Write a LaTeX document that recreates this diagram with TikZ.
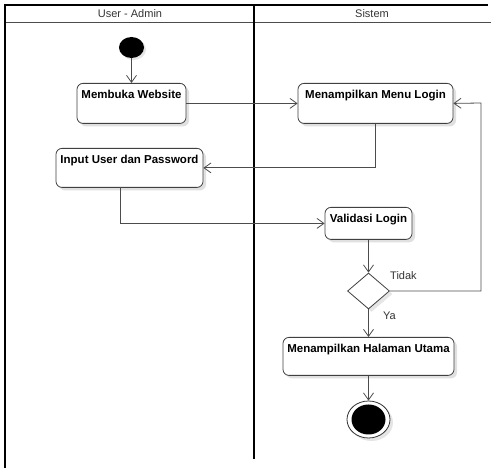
\documentclass[tikz,border=0pt]{standalone}
\usepackage{fontspec}
\setmainfont{Liberation Sans}
\usetikzlibrary{arrows.meta,shapes.geometric,shadows}

\begin{document}
\begin{tikzpicture}[x=1pt,y=-1pt,
  act/.style={draw=black!75, line width=0.8pt, rounded corners=6pt, fill=white,
    anchor=north, inner xsep=2pt, inner ysep=6pt, text height=9pt,
    font=\fontsize{11.5}{13}\selectfont\bfseries,
    drop shadow={shadow xshift=3pt, shadow yshift=-3pt, opacity=0.12, fill=black}},
  flow/.style={draw=black!70, line width=0.8pt,
    -{Straight Barb[length=7pt,width=10pt,line width=0.8pt]}},
  lanetext/.style={font=\fontsize{11}{13}\selectfont, text=black!80},
  guard/.style={font=\fontsize{11}{13}\selectfont, text=black!80, anchor=west, inner sep=0pt}
]
\useasboundingbox (0,0) rectangle (491,468);

% swimlane frame
\draw[black!70, line width=0.9pt] (5,22) -- (491,22);
\draw[black, line width=2.4pt] (4,5) -- (488,5);
\draw[black, line width=2.4pt] (5,4) -- (5,468);
\draw[black, line width=2pt] (254,5) -- (254,459);
\node[lanetext] (laneA) at (130,13.5) {User - Admin};
\node[lanetext] (laneB) at (372,13.5) {Sistem};

% initial node
\node[ellipse, fill=black, minimum width=25pt, minimum height=21pt, inner sep=0pt,
  drop shadow={shadow xshift=2pt, shadow yshift=-2pt, opacity=0.1, fill=black}]
  (start) at (131.5,47.5) {};

% activities
\node[act, minimum width=109pt, text depth=19pt] (web) at (131.5,83) {Membuka Website};
\node[act, minimum width=155pt, text depth=19pt] (menu) at (375.5,83) {Menampilkan Menu Login};
\node[act, minimum width=147pt, text depth=18pt] (input) at (129.5,148) {Input User dan Password};
\node[act, minimum width=87pt, text depth=11pt] (valid) at (368.5,207) {Validasi Login};
\node[act, minimum width=171pt, text depth=17pt] (home) at (368.5,337) {Menampilkan Halaman Utama};

% decision
\node[diamond, draw=black!75, line width=0.8pt, fill=white, minimum width=42pt,
  minimum height=36pt, inner sep=0pt,
  drop shadow={shadow xshift=3pt, shadow yshift=-3pt, opacity=0.1, fill=black}]
  (dec) at (368.5,291) {};

% final node
\node[ellipse, draw=black!80, line width=0.8pt, fill=white, minimum width=43pt,
  minimum height=37pt, inner sep=0pt,
  drop shadow={shadow xshift=3pt, shadow yshift=-3pt, opacity=0.1, fill=black}]
  (final) at (368.5,419.5) {};
\fill[black] (final.center) ellipse [x radius=17pt, y radius=15pt];

% bends of the loop back to the login menu
\coordinate (loopA) at (481,291);
\coordinate (loopB) at (481,103);
\coordinate (inDrop) at (120,187);

% control flow
\draw[flow] (start) -- (web);
\draw[flow] (web) -- (menu);
\draw[flow] (menu.south) |- (input.east);
\draw[flow] (inDrop) |- (valid.west);
\draw[flow] (valid) -- (dec);
\draw[flow] (dec.east) -- (loopA) -- (loopB) -- (menu.east);
\draw[flow] (dec) -- (home);
\draw[flow] (home) -- (final);

% guards
\node[guard] (no) at (390,276) {Tidak};
\node[guard] (yes) at (383,315.5) {Ya};
\end{tikzpicture}
\end{document}
